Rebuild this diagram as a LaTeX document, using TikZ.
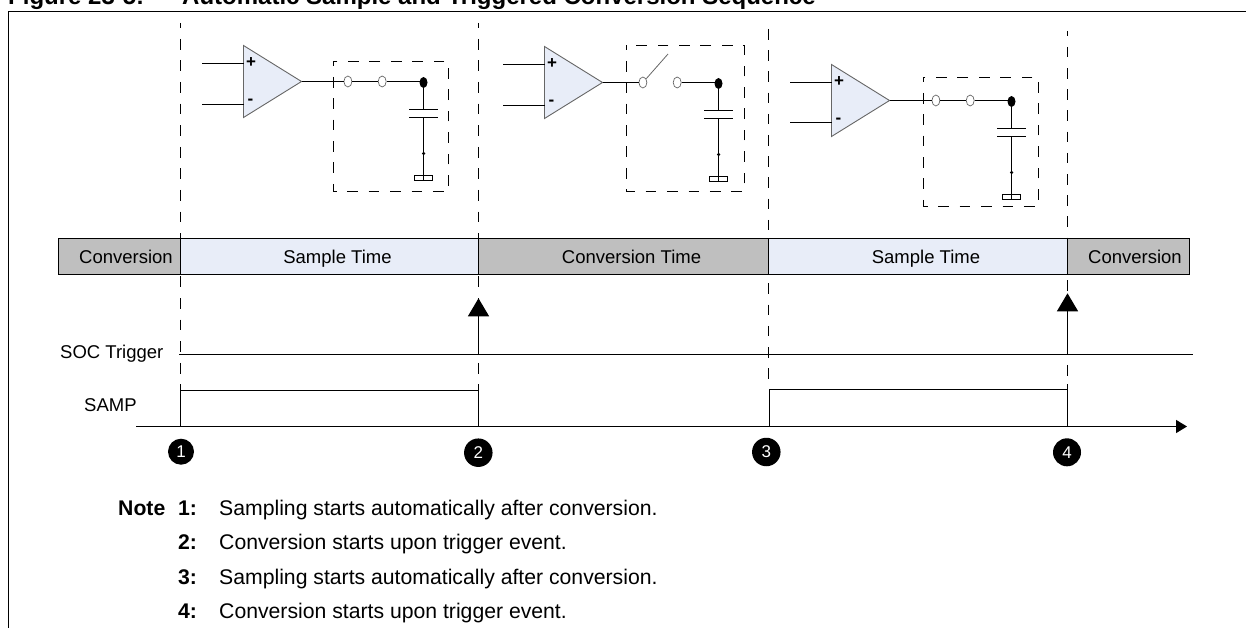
\documentclass[tikz,border=0pt]{standalone}
\usepackage{fontspec}
\setmainfont{Liberation Sans}
\usetikzlibrary{arrows.meta,positioning,shapes.geometric}
\definecolor{sampfill}{HTML}{E8EDF8}
\definecolor{convfill}{HTML}{BFBFBF}
\tikzset{
  wire/.style={line width=1.3pt},
  longdash/.style={line width=1.3pt,dash pattern=on #1 off #1},
  ampbody/.style={draw=black!60,line width=.9pt,fill=sampfill},
  contact/.style={ellipse,draw=black!60,line width=.7pt,fill=white,minimum width=8pt,minimum height=11pt,inner sep=0pt},
  jointdot/.style={ellipse,fill=black,minimum width=8pt,minimum height=11pt,inner sep=0pt},
  smalldot/.style={circle,fill=black,minimum size=3.5pt,inner sep=0pt},
  gndbox/.style={draw,line width=.9pt,fill=white,minimum width=18.4pt,minimum height=5.2pt,inner sep=0pt},
  sign/.style={font=\fontsize{17}{17}\selectfont\bfseries,inner sep=0pt},
  barcell/.style={draw,line width=1.3pt,outer sep=0pt,inner xsep=0pt,minimum height=36pt,text height=13.4pt,text depth=0pt,execute at begin node={\hspace*{#1}}},
  convcell/.style={barcell=13pt,fill=convfill},
  timecell/.style={barcell=16pt},
  lbl/.style={inner sep=0pt,anchor=base west},
  headlbl/.style={lbl,font=\fontsize{24}{24}\selectfont\bfseries},
  notelbl/.style={lbl,font=\fontsize{21.2}{22}\selectfont},
  notenum/.style={lbl,font=\fontsize{21.2}{22}\selectfont\bfseries},
  marker/.style={circle,fill=black,text=white,inner sep=0pt,font=\fontsize{17}{17}\selectfont},
}
\begin{document}
\begin{tikzpicture}[x=1pt,y=-1pt,every node/.style={font=\fontsize{18.5}{20}\selectfont}]
\useasboundingbox (0,0) rectangle (1246,628);
\node[headlbl] (figno) at (8,5) {Figure 23-5:};
\node[headlbl] (figtitle) at (182,5) {Automatic Sample and Triggered Conversion Sequence};
\draw[line width=1.3pt] (8.5,628) -- (8.5,11.5) -- (1246,11.5);
% phase lines
\foreach \nm/\xx/\ytop/\ybot/\ph/\dl in {a/180.5/23/384/5.8/10.8,b/478.5/23/384/5.8/10.8,c/768.5/29/384/0/10.6,d/1067.5/31/384/5.3/10.6}{
  \coordinate (top\nm) at (\xx,\ytop);
  \coordinate (bot\nm) at (\xx,\ybot);
  \draw[longdash=\dl pt,dash phase=\ph pt] (top\nm) -- (bot\nm);
}
% stages
\foreach \nm/\ax/\ay/\im/\cx/\bl/\bt/\br/\bb in {a/243.5/45.5/59/347.9/333.5/61.5/448.5/191.5,
    b/544.5/46.5/59/642.9/626.5/45.5/744.5/191.5,
    c/831.5/64.5/58/935.9/923.5/77.5/1038.5/206.5}{
  \coordinate (ampt\nm) at (\ax,\ay);
  \coordinate (ampb\nm) at (\ax,\ay+72);
  \coordinate (tip\nm) at (\ax+58,\ay+36);
  \coordinate (inp\nm) at (\ax-41.5,\ay+18);
  \coordinate (inm\nm) at (\ax-41.5,\ay+\im);
  \coordinate (plus\nm) at (\ax,\ay+18);
  \coordinate (minus\nm) at (\ax,\ay+\im);
  \draw[ampbody] (ampt\nm) -- (tip\nm) -- (ampb\nm) -- cycle;
  \draw[wire] (inp\nm) -- (plus\nm);
  \draw[wire] (inm\nm) -- (minus\nm);
  \node[sign] (sp\nm) at (\ax+7.5,\ay+17.5) {+};
  \node[sign] (sm\nm) at (\ax+7,\ay+56.5) {-};
  \draw[longdash=10.7pt,dash phase=6pt] (\bl,\bt) rectangle (\br,\bb);
  \node[contact] (swa\nm) at (\cx,\ay+36) {};
  \node[contact] (swb\nm) at (\cx+34.3,\ay+36) {};
  \node[jointdot] (joint\nm) at (\cx+75.6,\ay+37) {};
  \coordinate (capt\nm) at (\cx+75.6,\ay+64);
  \coordinate (capb\nm) at (\cx+75.6,\ay+72);
  \node[smalldot] (mid\nm) at (\cx+75.6,\ay+108) {};
  \node[gndbox] (gnd\nm) at (\cx+75.6,\ay+132.2) {};
  \draw[wire] (tip\nm) -- (swa\nm);
  \draw[wire] (swb\nm) -- (swb\nm -| joint\nm);
  \draw[wire] (joint\nm) -- (capt\nm);
  \draw[wire] ([xshift=-14.3pt]capt\nm) -- ([xshift=14.3pt]capt\nm);
  \draw[wire] ([xshift=-14.3pt]capb\nm) -- ([xshift=14.3pt]capb\nm);
  \draw[wire] (capb\nm) -- (gnd\nm.south);
}
\draw[wire] (swaa) -- (swba);
\draw[wire] (swac) -- (swbc);
\coordinate (armb) at (668,54);
\draw[draw=black!60,line width=.8pt] (swab) -- (armb);
% time bar
\node[convcell,anchor=west,minimum width=122pt] (conva) at (58.5,256.5) {Conversion};
\node[timecell,fill=sampfill,right=0pt of conva,minimum width=298pt] (sampa) {Sample Time};
\node[timecell,fill=convfill,right=0pt of sampa,minimum width=290pt] (convb) {Conversion Time};
\node[timecell,fill=sampfill,right=0pt of convb,minimum width=299pt] (sampb) {Sample Time};
\node[convcell,right=0pt of sampb,minimum width=122pt] (convc) {Conversion};
% signals
\node[lbl] (soclbl) at (60,358.3) {SOC Trigger};
\node[lbl] (samplbl) at (84,411) {SAMP};
\coordinate (socl) at (179,354.5);
\coordinate (socr) at (1192.7,354.5);
\coordinate (socb) at (478.5,354.5);
\coordinate (trigb) at (478.5,298.3);
\coordinate (socd) at (1067.5,354.5);
\coordinate (trigd) at (1067.5,293.3);
\draw[wire] (socl) -- (socr);
\draw[wire,-{Triangle[width=21pt,length=18pt]}] (socb) -- (trigb);
\draw[wire,-{Triangle[width=21pt,length=18pt]}] (socd) -- (trigd);
\coordinate (axl) at (136,426.5);
\coordinate (axr) at (1187,426.5);
\draw[wire,-{Triangle[width=13pt,length=11pt]}] (axl) -- (axr);
\coordinate (axa) at (180.5,426.5);
\coordinate (axb) at (478.5,426.5);
\coordinate (axc) at (769.5,426.5);
\coordinate (axd) at (1067.5,426.5);
\draw[wire] (axa) -- (180.5,384);
\draw[wire] (180.5,390.5) -- (478.5,390.5);
\draw[wire] (axb) -- (478.5,384);
\draw[wire] (axc) -- (769.5,389.5) -- (1067.5,389.5);
\draw[wire] (axd) -- (1067.5,384);
% numbers
\node[marker,minimum size=26pt] (mark1) at (181,451.7) {1};
\node[marker,minimum size=28.5pt] (mark2) at (478.3,452.7) {2};
\node[marker,minimum size=28.5pt] (mark3) at (766.3,452) {3};
\node[marker,minimum size=28pt] (mark4) at (1067,452.3) {4};
% notes
\node[notenum] (notehd) at (118,515) {Note};
\foreach \n/\yy/\txt in {1/515/Sampling starts automatically after conversion.,
    2/549/Conversion starts upon trigger event.,
    3/584/Sampling starts automatically after conversion.,
    4/618/Conversion starts upon trigger event.}{
  \node[notenum] (num\n) at (178,\yy) {\n:};
  \node[notelbl] (note\n) at (219,\yy) {\txt};
}
\end{tikzpicture}
\end{document}
